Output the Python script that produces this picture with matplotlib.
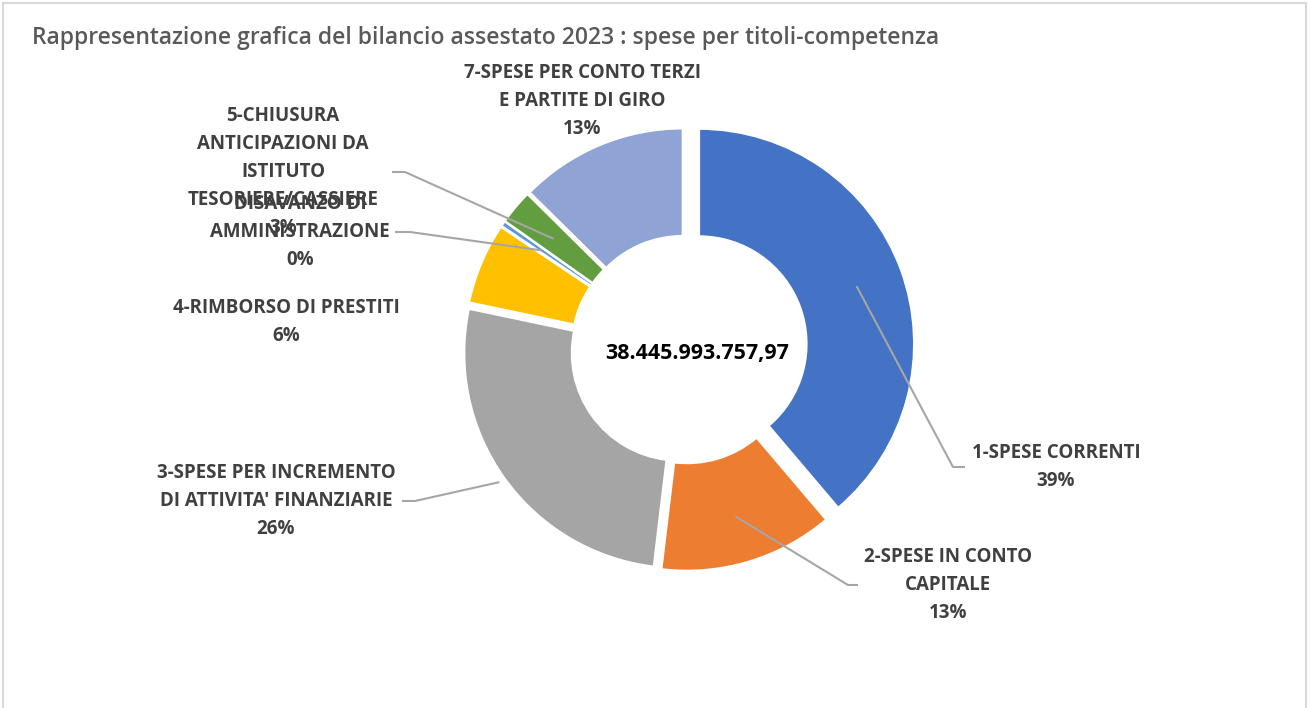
import numpy as np
import matplotlib.pyplot as plt
from matplotlib.patches import Rectangle

# Dati: spese per titoli (quota %, bilancio assestato 2023)
categorie = ['1-SPESE CORRENTI',
             '2-SPESE IN CONTO\nCAPITALE',
             "3-SPESE PER INCREMENTO\nDI ATTIVITA' FINANZIARIE",
             '4-RIMBORSO DI PRESTITI',
             'DISAVANZO DI\nAMMINISTRAZIONE',
             '5-CHIUSURA\nANTICIPAZIONI DA\nISTITUTO\nTESORIERE/CASSIERE',
             '7-SPESE PER CONTO TERZI\nE PARTITE DI GIRO']
quote = [38.8, 13.1, 26.4, 6.1, 0.4, 2.6, 12.6]
totale = '38.445.993.757,97'
titolo = 'Rappresentazione grafica del bilancio assestato 2023 : spese per titoli-competenza'

colori = ['#4472C4', '#ED7D31', '#A5A5A5', '#FFC000', '#5B9BD5', '#629D3F', '#8FA3D4']

# layout (pixel dell'immagine, y verso il basso)
W, H = 1310, 708
cx, cy = 685, 349
R = 215
esplodi = [15, 7, 7, 6, 6, 6, 6]
pos_etichette = [(1056, 467), (948, 585), (276, 501), (286, 322),
                 (300, 232), (283, 172), (582, 101)]
gomiti = [(953, 965), (848, 858), (415, 402), None, (410, 395), (405, 392), None]
ancora_r = [0.78, 0.78, 1.03, 0.78, 0.78, 0.77, 0.78]

fig = plt.figure(figsize=(W / 100, H / 100), dpi=100)
ax = fig.add_axes([0, 0, 1, 1])

wedges, _ = ax.pie(quote, colors=colori, startangle=90, counterclock=False,
                   radius=R, center=(cx, H - cy), explode=esplodi, frame=True,
                   wedgeprops=dict(width=R * 0.5, edgecolor='white', linewidth=1.5))
ax.set_xlim(0, W)
ax.set_ylim(0, H)
ax.set_aspect('equal', adjustable='box')
ax.axis('off')

# cornice
fig.patches.append(Rectangle((3 / W, -0.05), (W - 7) / W, 1.05 - 3 / H,
                             transform=fig.transFigure, fill=False,
                             edgecolor='#D9D9D9', linewidth=1.5))

fig.text(32 / W, 1 - 38 / H, titolo, fontsize=16.5, color='#595959',
         family='Open Sans', fontweight='semibold', va='center', ha='left')

for i, w in enumerate(wedges):
    lx, ly = pos_etichette[i]
    testo = categorie[i] + '\n' + f'{round(quote[i]):.0f}%'
    ax.text(lx, H - ly, testo, ha='center', va='center', fontsize=13.5,
            fontweight='bold', color='#404040', family='Open Sans', linespacing=1.52)
    if gomiti[i] is not None:
        ang = np.deg2rad((w.theta1 + w.theta2) / 2)
        wx, wy = w.center
        px = wx + ancora_r[i] * R * np.cos(ang)
        py = wy + ancora_r[i] * R * np.sin(ang)
        gx, ex = gomiti[i]
        ax.plot([px, gx, ex], [py, H - ly, H - ly], color='#A6A6A6', lw=1.5,
                solid_capstyle='butt', zorder=5)

ax.text(697, H - 353, totale, ha='center', va='center', fontsize=15.4,
        fontweight='bold', color='black', family='Open Sans')

fig.savefig('out.png', dpi=100, facecolor='white')
